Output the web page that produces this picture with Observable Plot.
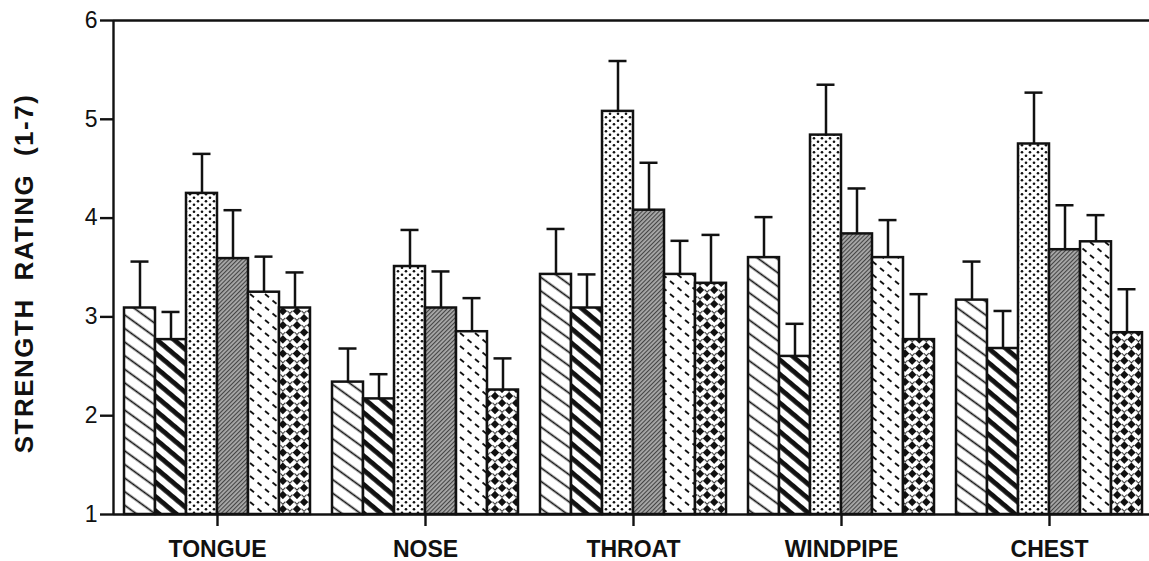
<!DOCTYPE html>
<html>
<head>
<meta charset="utf-8">
<script src="https://cdn.jsdelivr.net/npm/d3@7"></script>
<script src="https://cdn.jsdelivr.net/npm/@observablehq/plot@0.6"></script>
<style>
  html, body { margin: 0; padding: 0; background: #fff; overflow: hidden; }
  g[aria-label^="x-axis"] text { font-size: 23px !important; font-weight: bold; fill: #111; }
  g[aria-label^="y-axis"] line, g[aria-label^="y-axis"] path,
  g[aria-label^="x-axis"] line, g[aria-label^="x-axis"] path { stroke-width: 2.4px; stroke: #111; }
</style>
</head>
<body>
<div id="chart"></div>
<script>
// ---------- data ----------
const categories = ["TONGUE", "NOSE", "THROAT", "WINDPIPE", "CHEST"];
const seriesNames = ["Series 1", "Series 2", "Series 3", "Series 4", "Series 5", "Series 6"];

const mean1 = [3.09, 2.34, 3.43, 3.60, 3.17];
const mean2 = [2.77, 2.17, 3.09, 2.60, 2.68];
const mean3 = [4.25, 3.51, 5.08, 4.84, 4.75];
const mean4 = [3.59, 3.09, 4.08, 3.84, 3.68];
const mean5 = [3.25, 2.85, 3.43, 3.60, 3.76];
const mean6 = [3.09, 2.26, 3.34, 2.77, 2.84];

const se1 = [0.47, 0.34, 0.46, 0.41, 0.39];
const se2 = [0.28, 0.25, 0.34, 0.33, 0.38];
const se3 = [0.40, 0.37, 0.51, 0.51, 0.52];
const se4 = [0.49, 0.37, 0.48, 0.46, 0.45];
const se5 = [0.36, 0.34, 0.34, 0.38, 0.27];
const se6 = [0.36, 0.32, 0.49, 0.46, 0.44];

const yTicks = [1, 2, 3, 4, 5, 6];
const yTitle = "STRENGTH RATING (1-7)";

// ---------- table ----------
const means = [mean1, mean2, mean3, mean4, mean5, mean6];
const ses = [se1, se2, se3, se4, se5, se6];
const rows = means.flatMap((m, i) =>
  categories.map((c, j) => ({series: seriesNames[i], s: i, category: c, mean: m[j], se: ses[i][j]}))
);

// ---------- layout ----------
const W = 1149, H = 561;
const xRange = [113, 1153];
const step = (xRange[1] - xRange[0]) / categories.length;
const barW = 31;
const off = (step - barW * seriesNames.length) / 2;
const capW = 18;
const ink = "#111";

const marks = [];
seriesNames.forEach((name, i) => {
  const d = rows.filter(r => r.s === i);
  const iL = off + barW * i;
  const iR = step - off - barW * (i + 1);
  marks.push(Plot.barY(d, {
    x: "category", y1: yTicks[0], y2: "mean",
    fill: `url(#pat${i})`, stroke: ink, strokeWidth: 2.5,
    insetLeft: iL, insetRight: iR
  }));
  marks.push(Plot.ruleX(d, {
    x: "category", y1: "mean", y2: r => r.mean + r.se,
    dx: -step / 2 + off + barW * (i + 0.5), stroke: ink, strokeWidth: 2.5
  }));
  marks.push(Plot.tickY(d, {
    x: "category", y: r => r.mean + r.se,
    insetLeft: iL + (barW - capW) / 2, insetRight: iR + (barW - capW) / 2,
    stroke: ink, strokeWidth: 2.5
  }));
});
marks.push(Plot.ruleY([yTicks[0], yTicks[yTicks.length - 1]], {stroke: ink, strokeWidth: 2.4}));
marks.push(Plot.ruleX([categories[0]], {dx: -step / 2, stroke: ink, strokeWidth: 2.4}));
// y tick labels
marks.push(Plot.text(yTicks, {
  y: d => d, text: d => String(d), frameAnchor: "left", textAnchor: "end", lineAnchor: "middle",
  dx: -16, fontSize: 23, fill: ink
}));
// y title
marks.push(Plot.text([yTitle], {
  frameAnchor: "left", textAnchor: "middle", lineAnchor: "middle",
  text: d => d, rotate: -90, dx: -89, dy: 6,
  fontSize: 26, fontWeight: "bold", fill: ink
}));

const svg = Plot.plot({
  width: W, height: H,
  marginLeft: 113, marginRight: 0, marginTop: 20, marginBottom: 47,
  style: {fontFamily: "'Liberation Sans', Arial, Helvetica, sans-serif", background: "#fff", color: ink},
  x: {domain: categories, range: xRange, padding: 0, tickSize: 12, tickPadding: 14, label: null},
  y: {domain: [yTicks[0], yTicks[yTicks.length - 1]], ticks: yTicks, tickSize: 13, tickPadding: 4, label: null, tickFormat: () => ""},
  marks
});

// ---------- patterns ----------
const defs = d3.select(svg).insert("defs", ":first-child");
// 0: thin diagonal lines
let p = defs.append("pattern").attr("id", "pat0").attr("patternUnits", "userSpaceOnUse")
  .attr("width", 11).attr("height", 11).attr("patternTransform", "rotate(36)");
p.append("rect").attr("width", 11).attr("height", 11).attr("fill", "#fff");
p.append("line").attr("x1", 0).attr("x2", 11).attr("y1", 5.5).attr("y2", 5.5).attr("stroke", ink).attr("stroke-width", 1.7);
// 1: thick black diagonal stripes
p = defs.append("pattern").attr("id", "pat1").attr("patternUnits", "userSpaceOnUse")
  .attr("width", 11).attr("height", 11).attr("patternTransform", "rotate(40)");
p.append("rect").attr("width", 11).attr("height", 11).attr("fill", "#fff");
p.append("rect").attr("x", 0).attr("y", 3).attr("width", 11).attr("height", 4.8).attr("fill", ink);
// 2: dots
p = defs.append("pattern").attr("id", "pat2").attr("patternUnits", "userSpaceOnUse")
  .attr("width", 8).attr("height", 7);
p.append("rect").attr("width", 8).attr("height", 7).attr("fill", "#fff");
p.append("circle").attr("cx", 2).attr("cy", 1.75).attr("r", 1.3).attr("fill", ink);
p.append("circle").attr("cx", 6).attr("cy", 5.25).attr("r", 1.3).attr("fill", ink);
// 3: gray fine hatch
p = defs.append("pattern").attr("id", "pat3").attr("patternUnits", "userSpaceOnUse")
  .attr("width", 3).attr("height", 3).attr("patternTransform", "rotate(-45)");
p.append("rect").attr("width", 3).attr("height", 3).attr("fill", "#a9a9a9");
p.append("rect").attr("x", 0).attr("y", 0).attr("width", 3).attr("height", 1.1).attr("fill", "#444");
// 4: short dashes
p = defs.append("pattern").attr("id", "pat4").attr("patternUnits", "userSpaceOnUse")
  .attr("width", 15).attr("height", 13);
p.append("rect").attr("width", 15).attr("height", 13).attr("fill", "#fff");
p.append("line").attr("x1", 2.5).attr("y1", 1.5).attr("x2", 6.5).attr("y2", 4.8).attr("stroke", ink).attr("stroke-width", 1.8);
p.append("line").attr("x1", 10).attr("y1", 8).attr("x2", 14).attr("y2", 11.3).attr("stroke", ink).attr("stroke-width", 1.8);
// 5: black with white lattice
p = defs.append("pattern").attr("id", "pat5").attr("patternUnits", "userSpaceOnUse")
  .attr("width", 10).attr("height", 10).attr("patternTransform", "rotate(45)");
p.append("rect").attr("width", 10).attr("height", 10).attr("fill", ink);
p.append("rect").attr("x", 0).attr("y", 3).attr("width", 10).attr("height", 4).attr("fill", "#fff");
p.append("rect").attr("x", 3).attr("y", 0).attr("width", 4).attr("height", 10).attr("fill", "#fff");
p.append("rect").attr("x", 3).attr("y", 6.2).attr("width", 4).attr("height", 0.9).attr("fill", ink);
p.append("rect").attr("x", 6.2).attr("y", 3).attr("width", 0.9).attr("height", 4).attr("fill", ink);

const sel = d3.select(svg);
sel.selectAll('g[aria-label^="x-axis"]').attr("font-size", 23).attr("font-weight", "bold");

// title letter spacing (last text mark)
const textGroups = sel.selectAll('g[aria-label="text"]').nodes();
d3.select(textGroups[textGroups.length - 1]).selectAll("text")
  .style("letter-spacing", "1.5px").style("word-spacing", "9px");

document.getElementById("chart").appendChild(svg);
</script>
</body>
</html>
